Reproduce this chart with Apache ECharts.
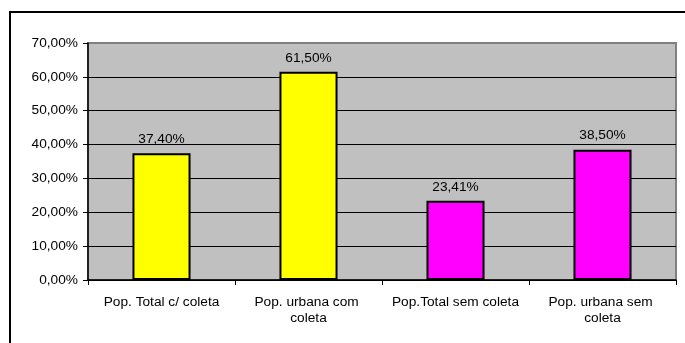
<!DOCTYPE html>
<html>
<head>
<meta charset="utf-8">
<script src="https://cdn.jsdelivr.net/npm/echarts@6/dist/echarts.min.js"></script>
<style>
  html, body { margin: 0; padding: 0; background: #fff; }
  #chart { width: 685px; height: 343px; }
</style>
</head>
<body>
<div id="chart"></div>
<script>
// Coverage of waste collection (share of population)
const categories = ['Pop. Total c/ coleta', 'Pop. urbana com coleta', 'Pop.Total sem coleta', 'Pop. urbana sem coleta'];
const values = [0.374, 0.615, 0.2341, 0.385];
const barColors = ['#FFFF00', '#FFFF00', '#FF00FF', '#FF00FF'];
const yTicks = [0, 0.1, 0.2, 0.3, 0.4, 0.5, 0.6, 0.7];

const FONT = '"Liberation Sans", Arial, sans-serif';
const FS = 13.7;

function pct(v) {
  return (v * 100).toFixed(2).replace('.', ',') + '%';
}

const chart = echarts.init(document.getElementById('chart'), null, { renderer: 'canvas' });

chart.setOption({
  animation: false,
  backgroundColor: '#ffffff',
  textStyle: { fontFamily: FONT },
  graphic: [{
    type: 'rect',
    z: 100,
    silent: true,
    shape: { x: 10, y: 12, width: 760, height: 420 },
    style: { fill: 'none', stroke: '#000', lineWidth: 2 }
  }],
  grid: {
    left: 88, top: 43, right: 9, bottom: 63,
    show: true,
    backgroundColor: '#C0C0C0',
    borderColor: '#808080',
    borderWidth: 2
  },
  xAxis: {
    type: 'category',
    data: categories,
    axisLine: { show: true, lineStyle: { color: '#000', width: 1.5 } },
    axisTick: { show: true, length: 5, alignWithLabel: false, lineStyle: { color: '#000' } },
    axisLabel: {
      color: '#000', fontFamily: FONT, fontSize: FS, margin: 14,
      width: 140, overflow: 'break', lineHeight: 16, interval: 0, align: 'center'
    }
  },
  yAxis: {
    type: 'value',
    min: yTicks[0],
    max: yTicks[yTicks.length - 1],
    interval: 0.1,
    axisLine: { show: true, lineStyle: { color: '#000', width: 1.5 } },
    axisTick: { show: true, length: 5, lineStyle: { color: '#000' } },
    axisLabel: { color: '#000', fontFamily: FONT, fontSize: FS, margin: 10, formatter: pct },
    splitLine: {
      show: true,
      lineStyle: { color: ['#000', '#000', '#000', '#000', '#000', '#000', '#000', '#808080'], width: 1 }
    }
  },
  series: [{
    type: 'bar',
    barWidth: '39.5%',
    data: values.map((v, i) => ({
      value: v,
      itemStyle: { color: barColors[i], borderColor: '#000', borderWidth: 2 }
    })),
    label: {
      show: true, position: 'top', distance: 7,
      color: '#000', fontFamily: FONT, fontSize: FS,
      formatter: p => pct(p.value)
    }
  }]
});
</script>
</body>
</html>
